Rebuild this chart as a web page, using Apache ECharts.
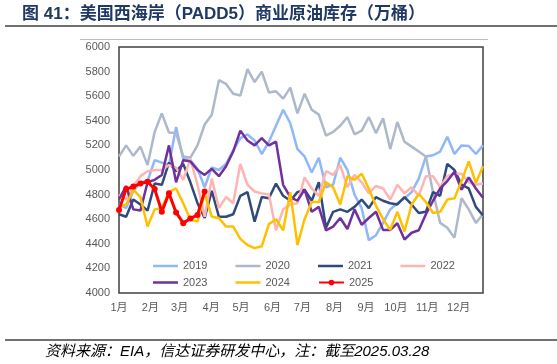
<!DOCTYPE html>
<html><head><meta charset="utf-8">
<script src="https://cdn.jsdelivr.net/npm/echarts@6/dist/echarts.min.js"></script>
<style>html,body{margin:0;padding:0;background:#fff}#c{width:557px;height:364px}</style>
</head><body><div id="c"></div>
<script>
// week index of each month label (x axis, weeks 0..51)
const monthWeeks = [0, 4.4, 8.5, 12.9, 17.1, 21.5, 25.7, 30.2, 34.6, 38.8, 43.2, 47.6];
const monthLabels = ['1月','2月','3月','4月','5月','6月','7月','8月','9月','10月','11月','12月'];
const yTicks = [4000, 6000, 200];

const s2019 = [4720,4690,4830,4900,4910,5080,5060,5040,5350,5090, 5080,5010,4860,5020,5000,5050,5160,5260,5290,5240, 5130,5230,5360,5490,5380,5170,5110,4980,5100,4860, 4880,5100,5000,4800,4690,4430,4470,4570,4680,4730, 4770,4820,4930,5110,5120,5150,5270,5130,5200,5195, 5130,5200];
const s2020 = [5110,5200,5115,5190,5040,5310,5460,5305,5300,5110, 5100,5200,5370,5450,5730,5700,5620,5605,5820,5715, 5800,5630,5640,5580,5670,5460,5620,5490,5450,5280, 5310,5360,5430,5290,5320,5430,5300,5420,5170,5390, 5230,5190,5150,5110,4820,4570,4530,4450,4770,4680, 4570,4640];
const s2021 = [4640,4620,4760,4720,4670,4890,4880,5060,4990,5050, 4900,4730,4610,4830,4620,4620,4640,4790,4820,4580, 4780,4770,4890,4790,4750,4820,4840,4750,4900,4530, 4660,4680,4660,4700,4760,4690,4780,4750,4730,4720, 4780,4720,4650,4660,4820,4790,5050,5000,4880,4850, 4700,4630];
const s2022 = [4800,4760,4870,4950,4990,5000,5000,5040,5020,4920, 5090,4880,4620,4930,4690,4780,4730,5050,4880,4825, 4810,4800,4510,4680,4720,4730,4940,4850,4790,4990, 4960,5040,4860,4960,4900,4810,4870,4850,4760,4880, 4810,4860,4790,4950,4950,4860,4950,4970,4970,4900, 4880,4890];
const s2023 = [4760,4870,4680,4670,4900,4920,4960,5200,4900,5080, 5070,5000,4960,5010,4950,5030,5150,5320,5240,5200, 5260,5200,5230,4880,4780,4750,4840,4660,4700,4510, 4540,4610,4520,4680,4555,4610,4660,4513,4513,4567, 4435,4490,4510,4640,4750,4850,4910,4985,4840,4940, 4850,4775];
const s2024 = [4700,4720,4840,4780,4540,4680,4690,4820,4850,4730, 4600,4580,4810,4620,4610,4540,4540,4440,4390,4365, 4380,4560,4600,4510,4820,4390,4600,4740,4740,4900, 4860,4720,4950,4920,4970,4850,4710,4600,4513,4660, 4500,4720,4805,4740,4650,4660,4760,4770,4910,5070, 4895,5030];
const s2025 = [4675,4845,4865,4890,4905,4845,4660,4810,4655,4568,4605,4635,4825];

const seriesNames = ['2019','2020','2021','2022','2023','2024','2025'];
const seriesData = [s2019,s2020,s2021,s2022,s2023,s2024,s2025];
const colors = ['#8FB8FA','#ADB9CA','#2F4B7C','#FFB4B4','#7030A0','#FFC000','#FF0000'];

const FONT = "'Liberation Sans','Noto Sans CJK SC',sans-serif";
const chart = echarts.init(document.getElementById('c'), null, {renderer:'canvas'});

const series = seriesNames.map((n, k) => {
  const is25 = n === '2025';
  const s = {
    name: n, type: 'line',
    data: seriesData[k].map((v, i) => [i, v]),
    symbol: is25 ? 'circle' : 'none',
    lineStyle: {color: colors[k], width: is25 ? 3 : 2.5},
    itemStyle: {color: colors[k]},
    z: 2 + k,
    animation: false
  };
  if (is25) { s.symbolSize = 6; s.showSymbol = true; }
  return s;
});

const lineIcon = 'path://M0,0H25V2.5H0Z';
function legendItems(names) {
  return names.map(n => n === '2025' ? {name: n} : {name: n, icon: lineIcon});
}

const legendCommon = {
  left: 153, padding: 0, itemWidth: 25, itemHeight: 7, itemGap: 28,
  symbolKeepAspect: true,
  textStyle: {color: '#595959', fontSize: 11, fontFamily: FONT},
  selectedMode: false
};

chart.setOption({
  animation: false,
  backgroundColor: '#fff',
  textStyle: {fontFamily: FONT},
  grid: {left: 119, right: 74, top: 47, bottom: 71, show: true, borderColor: '#404040', borderWidth: 1.5},
  xAxis: {
    type: 'value', min: 0, max: 51,
    splitLine: {show: false}, axisLine: {show: false}, axisTick: {show: false},
    axisLabel: {
      customValues: monthWeeks,
      formatter: function (v) {
        let best = 0;
        for (let i = 1; i < monthWeeks.length; i++) if (Math.abs(monthWeeks[i] - v) < Math.abs(monthWeeks[best] - v)) best = i;
        return monthLabels[best];
      },
      color: '#595959', fontSize: 11, margin: 9, fontFamily: FONT
    }
  },
  yAxis: {
    type: 'value', min: yTicks[0], max: yTicks[1], interval: yTicks[2],
    splitLine: {show: false}, axisLine: {show: false}, axisTick: {show: false},
    axisLabel: {color: '#595959', fontSize: 11, margin: 9, fontFamily: FONT, formatter: v => String(v)}
  },
  legend: [
    Object.assign({}, legendCommon, {data: legendItems(seriesNames.slice(0, 4)), top: 260.5}),
    Object.assign({}, legendCommon, {data: legendItems(seriesNames.slice(4)), top: 277})
  ],
  series: series,
  graphic: [
    {type: 'text', left: 22, top: 6, style: {text: '图 41：美国西海岸（PADD5）商业原油库存（万桶）', font: "bold 17px 'Liberation Sans','Noto Sans CJK SC',sans-serif", fill: '#1F3864'}},
    {type: 'line', shape: {x1: 5, y1: 26, x2: 557, y2: 26}, style: {stroke: '#404040', lineWidth: 1.5}},
    {type: 'line', shape: {x1: 80, y1: 39.5, x2: 488, y2: 39.5}, style: {stroke: '#BFBFBF', lineWidth: 1}},
    {type: 'line', shape: {x1: 5, y1: 340, x2: 557, y2: 340}, style: {stroke: '#404040', lineWidth: 1.5}},
    {type: 'text', left: 45, top: 344, style: {text: '资料来源：EIA，信达证券研发中心，注：截至2025.03.28', font: "italic 15px 'Liberation Sans','Noto Sans CJK SC',sans-serif", fill: '#000'}}
  ]
});
</script>
</body></html>
